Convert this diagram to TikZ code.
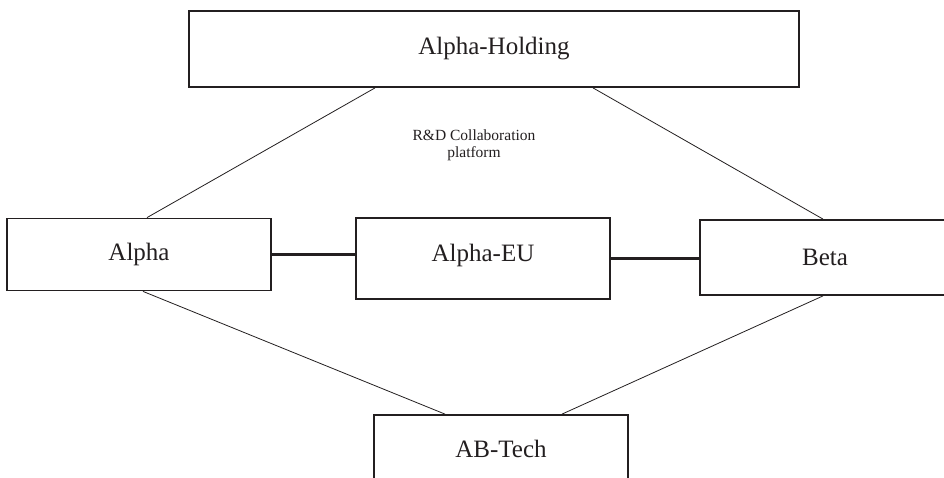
\documentclass[tikz,border=0pt]{standalone}
\usepackage{fontspec}
\setmainfont{Liberation Serif}
\usetikzlibrary{calc}
\definecolor{ink}{HTML}{231F20}
\begin{document}
\begin{tikzpicture}[x=1pt,y=-1pt,
  box/.style={draw=ink,line width=1.8pt,fill=white,inner sep=0pt,font=\fontsize{25}{28}\selectfont,text=ink},
  thin/.style={draw=ink,line width=0.8pt},
  thick/.style={draw=ink,line width=2.8pt}]
\useasboundingbox (0,0) rectangle (944,477);
\clip (0,0) rectangle (944,477);
\fill[white] (0,0) rectangle (944,477);
\node[box,minimum width=610pt,minimum height=76pt] (hold) at (494,49) {Alpha-Holding};
\node[box,minimum width=264pt,minimum height=72pt] (alpha) at (139,254.5) {Alpha};
\node[box,minimum width=254pt,minimum height=81pt] (eu) at (483,258.5) {\raisebox{11pt}{Alpha-EU}};
\node[box,minimum width=250pt,minimum height=75pt] (beta) at (825,257.5) {Beta};
\node[box,minimum width=254pt,minimum height=75pt] (ab) at (501,452.5) {\raisebox{6.5pt}{AB-Tech}};
\node[font=\fontsize{15.5}{17}\selectfont,text=ink,align=center] (rd) at (474,145) {R\&D Collaboration\\platform};
\draw[thin] ([xshift=-119pt]hold.south) -- ([xshift=8pt]alpha.north);
\draw[thin] ([xshift=99pt]hold.south) -- ([xshift=-2pt]beta.north);
\draw[thin] ([xshift=4pt]alpha.south) -- ([xshift=-56pt]ab.north);
\draw[thin] ([xshift=-2pt]beta.south) -- ([xshift=61pt]ab.north);
\draw[thick] (alpha.east) -- (alpha.east -| eu.west);
\draw[thick] (eu.east) -- (eu.east -| beta.west);
\end{tikzpicture}
\end{document}
